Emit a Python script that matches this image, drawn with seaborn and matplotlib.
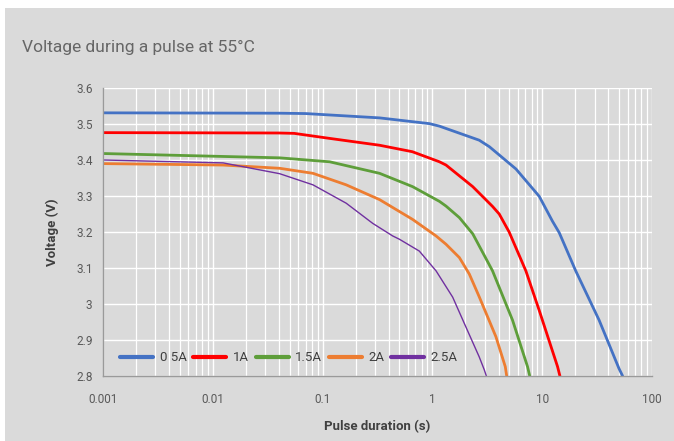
import matplotlib
matplotlib.use("Agg")
import matplotlib.pyplot as plt
import matplotlib.ticker as mticker
import seaborn as sns
import pandas as pd
import numpy as np

# ---- data ----
series_names = ["0.5A", "1A", "1.5A", "2A", "2.5A"]
legend_labels = ["0 5A", "1A", "1.5A", "2A", "2.5A"]

t_05 = [0.001, 0.0406, 0.07, 0.33, 0.94, 1.16, 2.67, 3.3, 5.77, 9.4, 12.4, 14.3, 20.2, 33, 50, 54]
v_05 = [3.531, 3.530, 3.529, 3.517, 3.501, 3.494, 3.455, 3.437, 3.375, 3.299, 3.230, 3.198, 3.092, 2.955, 2.821, 2.8]

t_10 = [0.001, 0.04, 0.055, 0.116, 0.33, 0.657, 1.16, 1.33, 2.33, 2.67, 3.53, 4.06, 5.0, 7.1, 9.4, 13.8, 14.5]
v_10 = [3.476, 3.475, 3.474, 3.46, 3.441, 3.423, 3.395, 3.386, 3.326, 3.308, 3.271, 3.25, 3.2, 3.092, 2.982, 2.826, 2.8]

t_15 = [0.001, 0.0406, 0.116, 0.33, 0.66, 1.16, 1.33, 1.76, 2.33, 3.53, 5.37, 7.35, 7.7]
v_15 = [3.418, 3.406, 3.395, 3.363, 3.326, 3.285, 3.272, 3.24, 3.195, 3.092, 2.955, 2.826, 2.8]

t_20 = [0.001, 0.0124, 0.0406, 0.0817, 0.164, 0.33, 0.66, 1.08, 1.33, 1.76, 2.17, 2.67, 3.79, 4.61, 4.75]
v_20 = [3.39, 3.386, 3.377, 3.363, 3.331, 3.29, 3.235, 3.189, 3.166, 3.129, 3.083, 3.02, 2.909, 2.826, 2.8]

t_25 = [0.001, 0.0124, 0.0406, 0.0817, 0.164, 0.286, 0.435, 0.5, 0.76, 1.08, 1.53, 2.02, 2.67, 2.97, 3.1]
v_25 = [3.40, 3.392, 3.362, 3.331, 3.28, 3.224, 3.189, 3.18, 3.147, 3.092, 3.019, 2.936, 2.853, 2.817, 2.8]

x_ticks = [0.001, 0.01, 0.1, 1, 10, 100]
x_tick_labels = ["0.001", "0.01", "0.1", "1", "10", "100"]
y_ticks = [2.8, 2.9, 3.0, 3.1, 3.2, 3.3, 3.4, 3.5, 3.6]
y_tick_labels = ["2.8", "2.9", "3", "3.1", "3.2", "3.3", "3.4", "3.5", "3.6"]

colors = ["#4472C4", "#FF0000", "#5E9E3A", "#ED7D31", "#7030A0"]

frames = []
for name, t, v in zip(series_names, [t_05, t_10, t_15, t_20, t_25],
                      [v_05, v_10, v_15, v_20, v_25]):
    frames.append(pd.DataFrame({"t": t, "V": v, "series": name}))
df = pd.concat(frames, ignore_index=True)

# ---- figure ----
bg = "#dadada"
sns.set_style("white")
plt.rcParams["font.family"] = ["Roboto", "DejaVu Sans"]

fig = plt.figure(figsize=(6.74, 4.41), dpi=100, facecolor="white")
panel = plt.Rectangle((5 / 674, 0), 1, 1 - 8 / 441, transform=fig.transFigure,
                      facecolor=bg, edgecolor="none", zorder=-10)
fig.add_artist(panel)
ax = fig.add_axes([103 / 674, 1 - 376 / 441, 549 / 674, 288 / 441])
ax.set_zorder(1)
ax.set_facecolor(bg)

sns.lineplot(data=df, x="t", y="V", hue="series", hue_order=series_names,
             palette=colors, estimator=None, sort=False, linewidth=2.0, ax=ax)
for ln in ax.lines:
    ln.set_solid_joinstyle("round")
ax.lines[4].set_linewidth(1.0)

ax.set_xscale("log")
ax.set_xlim(0.001, 100)
ax.set_ylim(2.8, 3.6)

ax.set_xticks(x_ticks)
ax.set_xticklabels(x_tick_labels)
ax.xaxis.set_minor_locator(mticker.LogLocator(base=10, subs=np.arange(2, 10)))
ax.xaxis.set_minor_formatter(mticker.NullFormatter())
ax.set_yticks(y_ticks)
ax.set_yticklabels(y_tick_labels)

ax.grid(True, which="major", axis="both", color="white", linewidth=1.0)
ax.grid(True, which="minor", axis="x", color="white", linewidth=0.9)
ax.set_axisbelow(True)

for side in ["top", "right"]:
    ax.spines[side].set_visible(False)
for side in ["left", "bottom"]:
    ax.spines[side].set_color("#9a9a9a")
    ax.spines[side].set_linewidth(1.0)

ax.tick_params(axis="both", which="major", colors="#9a9a9a", labelcolor="#595959",
               labelsize=8.5, length=4, direction="out")
ax.tick_params(axis="x", which="minor", length=0)
ax.tick_params(axis="x", pad=8)

ax.set_xlabel("Pulse duration (s)", fontsize=9.5, fontweight="bold", color="#404040", labelpad=10)
ax.set_ylabel("Voltage (V)", fontsize=9.5, fontweight="bold", color="#404040", labelpad=12)

fig.text(22 / 674, 1 - 47 / 441, "Voltage during a pulse at 55°C", fontsize=12.5,
         color="#666666", va="center", ha="left")

handles, _ = ax.get_legend_handles_labels()
leg = ax.legend(handles, legend_labels, loc="lower left", ncol=5, frameon=False,
                bbox_to_anchor=(0.01, 0.0), fontsize=9.5, handlelength=2.5,
                columnspacing=0.5, handletextpad=0.5, labelcolor="#404040")
for lh in leg.legend_handles:
    lh.set_linewidth(3.0)

fig.savefig("out.png", dpi=100, facecolor="white")
